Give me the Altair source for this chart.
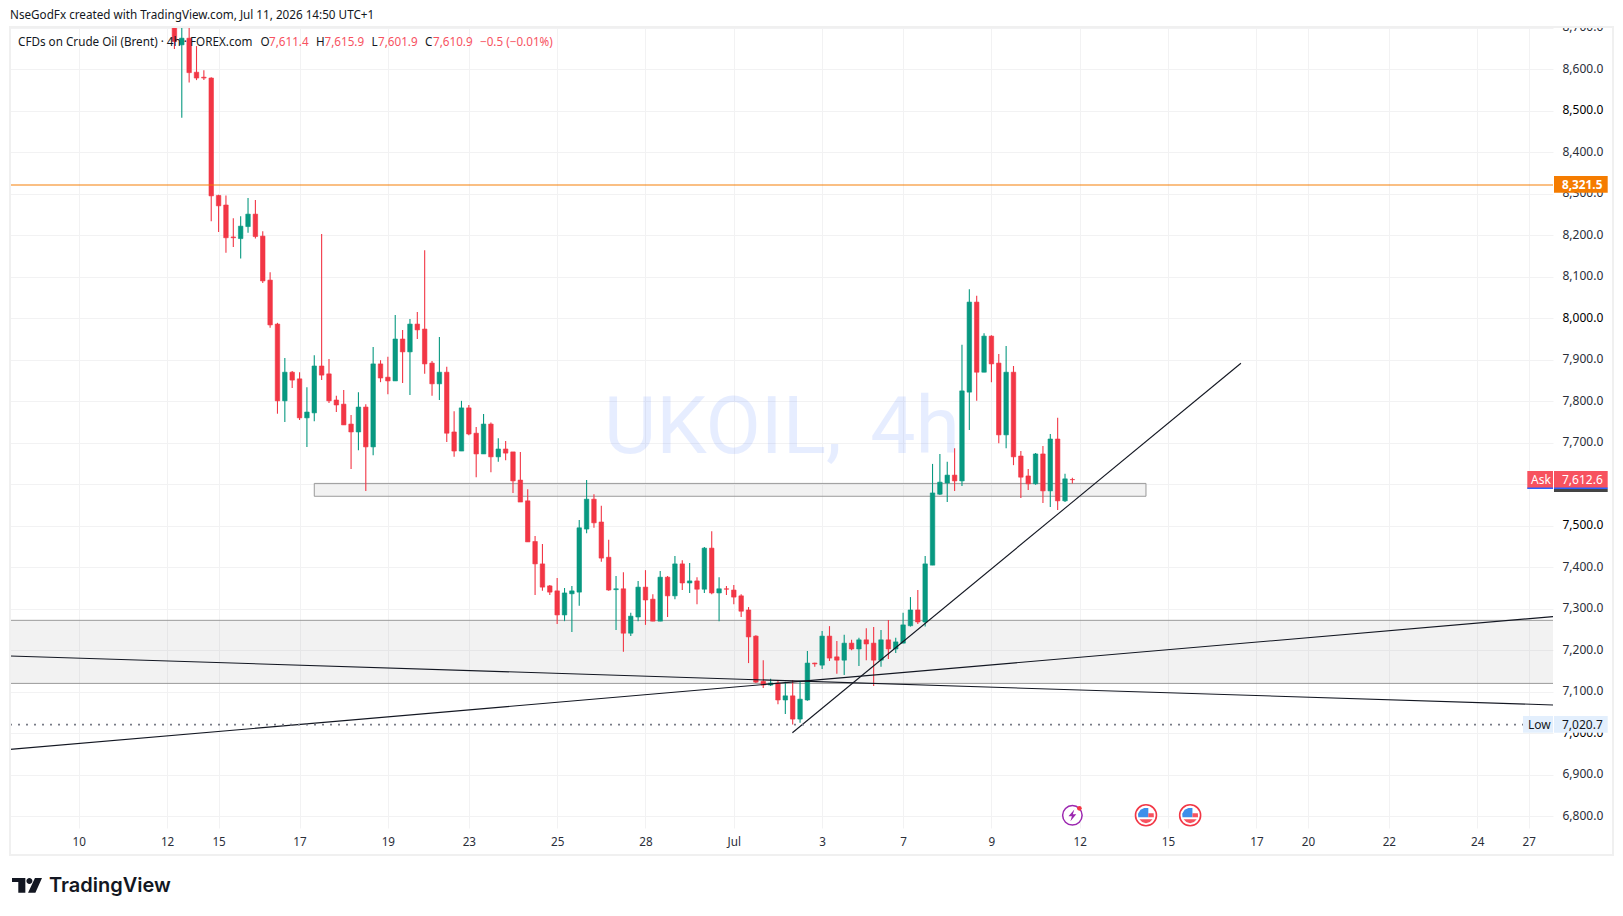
import altair as alt
import pandas as pd

# ---- candle data (oldest to newest) ----
opens = [8720,8659,8675,8593,8581,8579,8296,8273,8196,8192,
8221,8251,8198,8092,7986,7801,7870,7854,7760,7772,
7885,7866,7803,7793,7745,7726,7786,7690,7890,7858,
7849,7950,7919,7986,7974,7892,7842,7870,7726,7680,
7784,7723,7673,7745,7666,7685,7678,7610,7560,7462,
7408,7355,7343,7285,7336,7340,7492,7564,7509,7424,
7346,7348,7241,7280,7352,7323,7270,7376,7331,7408,
7362,7367,7347,7446,7338,7348,7345,7331,7297,7234,
7125,7116,7121,7080,7090,7034,7080,7169,7164,7234,
7184,7176,7217,7203,7225,7217,7176,7225,7203,7217,
7259,7297,7268,7405,7576,7603,7622,7608,7822,8039,
7870,7957,7892,7719,7870,7668,7620,7601,7673,7584,
7709,7560,7611.4]
highs = [8740,8710,8710,8656,8598,8581,8298,8296,8241,8246,
8290,8285,8210,8111,7989,7904,7873,7870,7834,7911,
8203,7902,7813,7827,7767,7822,7793,7931,7899,7907,
8008,7972,7998,8015,8164,7897,7955,7883,7776,7801,
7791,7738,7769,7749,7711,7704,7678,7678,7588,7475,
7456,7357,7374,7350,7355,7514,7610,7576,7548,7466,
7379,7388,7290,7367,7393,7335,7391,7379,7427,7417,
7410,7376,7449,7487,7376,7355,7357,7335,7304,7236,
7176,7131,7128,7124,7128,7124,7198,7170,7246,7258,
7222,7237,7225,7230,7253,7256,7249,7273,7230,7290,
7328,7345,7427,7649,7673,7654,7687,7936,8070,8054,
7964,7959,7914,7933,7885,7680,7637,7675,7692,7721,
7760,7625,7615.9]
lows = [8649,8483,8568,8574,8574,8234,8208,8158,8172,8144,
8206,8192,8085,7977,7770,7750,7832,7755,7690,7752,
7851,7796,7774,7743,7637,7682,7584,7670,7846,7817,
7849,7844,7815,7950,7866,7813,7803,7702,7666,7680,
7718,7617,7673,7629,7654,7658,7579,7557,7461,7333,
7343,7333,7263,7270,7244,7307,7482,7495,7413,7343,
7249,7196,7234,7270,7261,7270,7270,7280,7323,7345,
7338,7311,7338,7335,7270,7333,7311,7280,7169,7121,
7109,7114,7070,7046,7021,7025,7078,7160,7155,7174,
7143,7140,7200,7162,7176,7114,7160,7179,7193,7217,
7257,7263,7257,7405,7574,7557,7584,7596,7731,7801,
7870,7846,7699,7687,7646,7567,7586,7599,7555,7545,
7538,7557,7601.9]
closes = [8667,8675,8592,8579,8579,8295,8271,8194,8194,8222,
8251,8197,8090,7984,7801,7870,7851,7760,7774,7885,
7863,7801,7791,7743,7726,7786,7690,7890,7856,7849,
7950,7919,7986,7972,7890,7842,7870,7723,7680,7784,
7721,7673,7745,7666,7685,7675,7608,7557,7461,7408,
7352,7340,7285,7338,7343,7495,7564,7507,7422,7345,
7348,7241,7282,7352,7321,7270,7376,7331,7408,7362,
7367,7347,7446,7338,7348,7347,7328,7294,7232,7123,
7116,7121,7080,7090,7034,7082,7169,7167,7234,7181,
7176,7217,7203,7225,7215,7176,7225,7203,7220,7261,
7297,7268,7408,7579,7605,7622,7608,7825,8039,7870,
7957,7890,7719,7870,7666,7617,7601,7673,7584,7709,
7560,7613,7610.9]

tick_bars = [-13,-1,6,17,29,40,52,64,76,88,99,111,123,135,147,154,165,177,184]
tick_text = ["10","12","15","17","19","23","25","28","Jul","3","7","9","12","15","17","20","22","24","27"]
price_ticks = list(range(6800, 8800, 100))

X_DOMAIN = [-22.34, 187.3]
Y_DOMAIN = [6771.5, 8702]

# drawings
resistance = 8321.5
low_level = 7020.7
band_top, band_bottom = 7272, 7120
box = dict(x=19, x2=132, top=7602, bottom=7571)
line_a = dict(x=[-22.34, 187.3], y=[7186, 7068])
line_b = dict(x=[-22.34, 187.3], y=[6961, 7281])
line_c = dict(x=[83.96, 144.9], y=[7001, 7891.5])

RED, GREEN = "#F23645", "#089981"
GRID = "#F2F2F3"
FONT = "Noto Sans"
INK = "#131722"

df = pd.DataFrame({"i": range(len(opens)), "o": opens, "h": highs, "l": lows, "c": closes})
df["col"] = [GREEN if c >= o else RED for o, c in zip(opens, closes)]

xs = alt.Scale(domain=X_DOMAIN, nice=False, zero=False, padding=0)
ys = alt.Scale(domain=Y_DOMAIN, nice=False, zero=False, padding=0)
label_map = "{" + ",".join(f"'{b}':'{t}'" for b, t in zip(tick_bars, tick_text)) + "}"

x_axis = alt.Axis(values=tick_bars, labelExpr=label_map + "[datum.value]", title=None, grid=True,
                  gridColor=GRID, gridWidth=1, ticks=False, domain=False, labelPadding=8, labelFont=FONT,
                  labelFontSize=11.7, labelColor="#2a2e39", labelOverlap=False, labelFlush=False, labelAngle=0)
y_axis = alt.Axis(values=price_ticks, orient="right", format=",.1f", title=None, grid=True, gridColor=GRID,
                  gridWidth=1, ticks=False, domain=False, labelPadding=9, labelFont=FONT, labelFontSize=12,
                  labelOffset=-1, labelAlign="left",
                  labelColor={"expr": "datum.value % 500 === 0 ? '#000000' : '#2a2e39'"},
                  labelOverlap=False, labelFlush=False)


def X(f="i"):
    return alt.X(f"{f}:Q", scale=xs, axis=x_axis, title=None)


def Y(f):
    return alt.Y(f"{f}:Q", scale=ys, axis=y_axis, title=None)


def text(s, x, y, color=INK, size=11.7, align="left", font=FONT, weight="normal", opacity=1):
    return alt.Chart(pd.DataFrame({"t": [s]})).mark_text(
        align=align, baseline="middle", fontSize=size, font=font, color=color, fontWeight=weight, opacity=opacity
    ).encode(x=alt.value(x), y=alt.value(y), text="t:N")


def rect(x, x2, y, y2, fill):
    return alt.Chart(pd.DataFrame({"t": [0]})).mark_rect(color=fill).encode(
        x=alt.value(x), x2=alt.value(x2), y=alt.value(y), y2=alt.value(y2))


def line(spec, color="#131722", width=1.1):
    d = pd.DataFrame(spec)
    return alt.Chart(d).mark_line(color=color, strokeWidth=width, clip=True).encode(x=X("x"), y=Y("y"))


def level(value, **kw):
    return alt.Chart(pd.DataFrame({"p": [value]})).mark_rule(clip=True, **kw).encode(y=Y("p"))


watermark = text("UKOIL,\u200a 4h", 594, 402, color="#2962FF", size=80.5, font="Roboto", opacity=0.11)

band = alt.Chart(pd.DataFrame({"x": [X_DOMAIN[0]], "x2": [X_DOMAIN[1]], "y": [band_bottom], "y2": [band_top]})).mark_rect(
    color="#808080", opacity=0.1).encode(x=X("x"), x2="x2:Q", y=Y("y"), y2="y2:Q")
band_t = level(band_top, color="#9a9a9a", strokeWidth=1)
band_b = level(band_bottom, color="#9a9a9a", strokeWidth=1)

box_df = pd.DataFrame({"x": [box["x"]], "x2": [box["x2"]], "y": [box["bottom"]], "y2": [box["top"]]})
box_fill = alt.Chart(box_df).mark_rect(color="#808080", opacity=0.1).encode(x=X("x"), x2="x2:Q", y=Y("y"), y2="y2:Q")
box_line = alt.Chart(box_df).mark_rect(fillOpacity=0, stroke="#9a9a9a", strokeWidth=1).encode(
    x=X("x"), x2="x2:Q", y=Y("y"), y2="y2:Q")

wicks = alt.Chart(df).mark_rule(clip=True, strokeWidth=1.1).encode(
    x=X(), y=Y("l"), y2="h:Q", color=alt.Color("col:N", scale=None, legend=None))
bodies = alt.Chart(df).mark_bar(size=4.5, clip=True, orient="vertical", strokeWidth=0.6).encode(
    x=X(), y=Y("o"), y2="c:Q", color=alt.Color("col:N", scale=None, legend=None),
    stroke=alt.Stroke("col:N", scale=None, legend=None))

orange = level(resistance, color="#F57C00", strokeWidth=1.5, opacity=0.65)
dotted = alt.Chart(pd.DataFrame({"x": [X_DOMAIN[0]], "x2": [(1523 - 174.4) / 7.36], "p": [low_level]})).mark_rule(
    color="#787B86", strokeWidth=1.6, strokeDash=[2, 6]).encode(x=X("x"), x2="x2:Q", y=Y("p"))

# price tags (plot origin is 10,27 on the page)
tags = [
    rect(1544, 1597.7, 149, 165.7, "#F57C00"),
    text("8,321.5", 1552, 157.5, color="#ffffff", weight="bold", size=11.8),
    rect(1517.3, 1543, 444, 461.5, "#F7525F"),
    rect(1517.3, 1543, 460.5, 462, "#2962FF"),
    rect(1544, 1597.7, 462, 465, "#444444"),
    rect(1544, 1597.7, 444, 461.5, "#F7525F"),
    rect(1544, 1597.7, 460.5, 462, "#2962FF"),
    text("Ask", 1521, 453, color="#ffffff", size=12),
    text("7,612.6", 1552, 452.5, color="#ffffff", size=12),
    rect(1513, 1543, 689, 705.7, "#E3EFFD"),
    rect(1544, 1597.7, 689, 705.7, "#E3EFFD"),
    text("Low", 1518, 697.5, size=12),
    text("7,020.7", 1552, 697.5, size=12),
]

# page furniture
cover = rect(1544, 1610, -26, 0, "#ffffff")
frame = alt.Chart(pd.DataFrame({"t": [0]})).mark_rect(fillOpacity=0, stroke="#F0F0F0", strokeWidth=2).encode(
    x=alt.value(0), x2=alt.value(1603), y=alt.value(0), y2=alt.value(828))

header = [
    text("NseGodFx created with TradingView.com, Jul 11, 2026 14:50 UTC+1", 0, -12.3),
    text("CFDs on Crude Oil (Brent) · 4h · FOREX.com", 8, 14.5),
]
for s, x, col in [("O", 250.6, INK), ("7,611.4", 259, "#F7525F"), ("H", 306, INK), ("7,615.9", 314.5, "#F7525F"),
                  ("L", 361.6, INK), ("7,601.9", 368, "#F7525F"), ("C", 415, INK), ("7,610.9", 423, "#F7525F"),
                  ("−0.5 (−0.01%)", 470, "#F7525F")]:
    header.append(text(s, x, 14.5, color=col))

logo_path = ("M-1,-.49 L-.11,-.49 L-.11,.49 L-.58,.49 L-.58,-.22 L-1,-.22 Z "
             "M-.04,-.29 a.2,.2 0 1,0 .4,0 a.2,.2 0 1,0 -.4,0 Z "
             "M.53,-.49 L1,-.49 L.56,.49 L.07,.49 Z")
logo = alt.Chart(pd.DataFrame({"t": [0]})).mark_point(shape=logo_path, size=900, filled=True, color="#131722", opacity=1).encode(
    x=alt.value(17), y=alt.value(858.3))
logo_text = text("TradingView", 39, 859, size=20, font="Inter", weight=600, color="#131722")

# event markers on the time axis
event_y = 788.3
ev_bolt = pd.DataFrame({"x": [122]})
ev_us = pd.DataFrame({"x": [132, 138]})
ring = alt.Chart(ev_bolt).mark_point(shape="circle", size=380, fill="#ffffff", filled=True, stroke="#9C27B0",
                                     strokeWidth=1.5, opacity=1).encode(x=X("x"), y=alt.value(event_y))
bolt = alt.Chart(ev_bolt).mark_point(shape="M.2,-.6 L-.4,.1 L-.05,.1 L-.2,.6 L.4,-.1 L.05,-.1 Z", size=380, filled=True,
                                     color="#9C27B0", opacity=1).encode(x=X("x"), y=alt.value(event_y))
dot = alt.Chart(ev_bolt).mark_point(shape="circle", size=22, filled=True, color="#F23645", opacity=1, xOffset=7,
                                    yOffset=-7).encode(x=X("x"), y=alt.value(event_y))
us_ring = alt.Chart(ev_us).mark_point(shape="circle", size=440, fill="#ffffff", filled=True, stroke="#F23645",
                                      strokeWidth=1.6, opacity=1).encode(x=X("x"), y=alt.value(event_y))


def flag(path, col):
    return alt.Chart(ev_us).mark_point(shape=path, size=484, filled=True, color=col, opacity=1).encode(
        x=X("x"), y=alt.value(event_y))


us_parts = [
    flag("M-.7,.18 L-.72,-.15 L-.5,-.5 L-.15,-.67 L.21,-.67 L.21,.18 Z", "#3D8FEA"),
    flag("M.21,-.18 L.7,-.18 L.72,.18 L.21,.18 Z", "#F7525F"),
    flag("M-.6,.36 L.6,.36 L.35,.62 L0,.72 L-.35,.62 Z", "#F7525F"),
]

layers = [watermark, band, band_t, band_b, box_fill, box_line, wicks, bodies,
          line(line_a), line(line_b), line(line_c), orange, dotted]
layers += [ring, bolt, dot, us_ring] + us_parts + tags + [cover, frame] + header + [logo, logo_text]

chart = alt.layer(*layers).properties(
    width=1543, height=801, padding={"left": 2, "top": 19, "right": 62, "bottom": 76},
    autosize=alt.AutoSizeParams(type="none"), background="#ffffff",
).configure_view(stroke=None)

chart.save("out.html", embed_options={"renderer": "svg", "actions": False})
